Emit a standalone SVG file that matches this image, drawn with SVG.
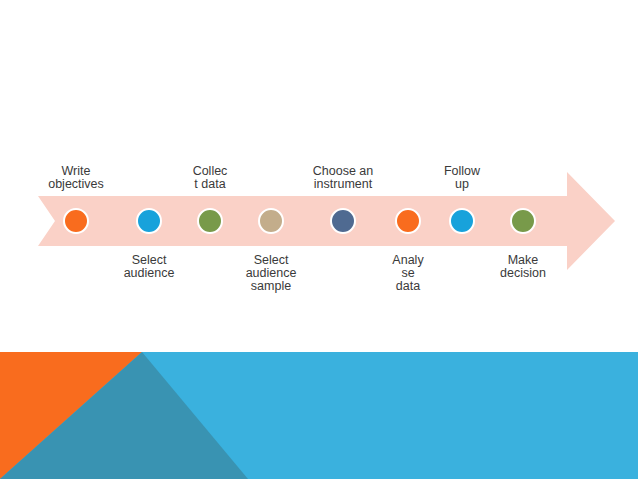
<svg xmlns="http://www.w3.org/2000/svg" width="638" height="479" viewBox="0 0 638 479">
<style>
.lbl{font-family:"Liberation Sans",Arial,sans-serif;font-size:12.5px;fill:#3a3a3a;text-anchor:middle}
.dot{stroke:#fff;stroke-width:2}
</style>
<rect width="638" height="479" fill="#fff"/>
<g id="background">
<rect x="0" y="352" width="638" height="127" fill="#3AB1DE"/>
<polygon points="0,352 142,352 0,479" fill="#F96C1E"/>
<polygon points="142,352 248,479 0,479" fill="#3993B2"/>
</g>
<g id="arrow">
<polygon points="38,196 567,196 567,172 615,221 567,270 567,246 38,246 55,221" fill="#FAD1C7"/>
</g>
<g id="connectors"></g>
<g id="n1"><circle class="dot" cx="76" cy="221" r="12" fill="#F96C1E"/><text class="lbl" x="76" y="175">Write</text><text class="lbl" x="76" y="188">objectives</text></g>
<g id="n2"><circle class="dot" cx="149" cy="221" r="12" fill="#18A2DB"/><text class="lbl" x="149" y="264">Select</text><text class="lbl" x="149" y="277">audience</text></g>
<g id="n3"><circle class="dot" cx="210" cy="221" r="12" fill="#789A4A"/><text class="lbl" x="210" y="175">Collec</text><text class="lbl" x="210" y="188">t data</text></g>
<g id="n4"><circle class="dot" cx="271" cy="221" r="12" fill="#C3AD8B"/><text class="lbl" x="271" y="264">Select</text><text class="lbl" x="271" y="277">audience</text><text class="lbl" x="271" y="290">sample</text></g>
<g id="n5"><circle class="dot" cx="343" cy="221" r="12" fill="#4F6A91"/><text class="lbl" x="343" y="175">Choose an</text><text class="lbl" x="343" y="188">instrument</text></g>
<g id="n6"><circle class="dot" cx="408" cy="221" r="12" fill="#F96C1E"/><text class="lbl" x="408" y="264">Analy</text><text class="lbl" x="408" y="277">se</text><text class="lbl" x="408" y="290">data</text></g>
<g id="n7"><circle class="dot" cx="462" cy="221" r="12" fill="#18A2DB"/><text class="lbl" x="462" y="175">Follow</text><text class="lbl" x="462" y="188">up</text></g>
<g id="n8"><circle class="dot" cx="523" cy="221" r="12" fill="#789A4A"/><text class="lbl" x="523" y="264">Make</text><text class="lbl" x="523" y="277">decision</text></g>
</svg>
